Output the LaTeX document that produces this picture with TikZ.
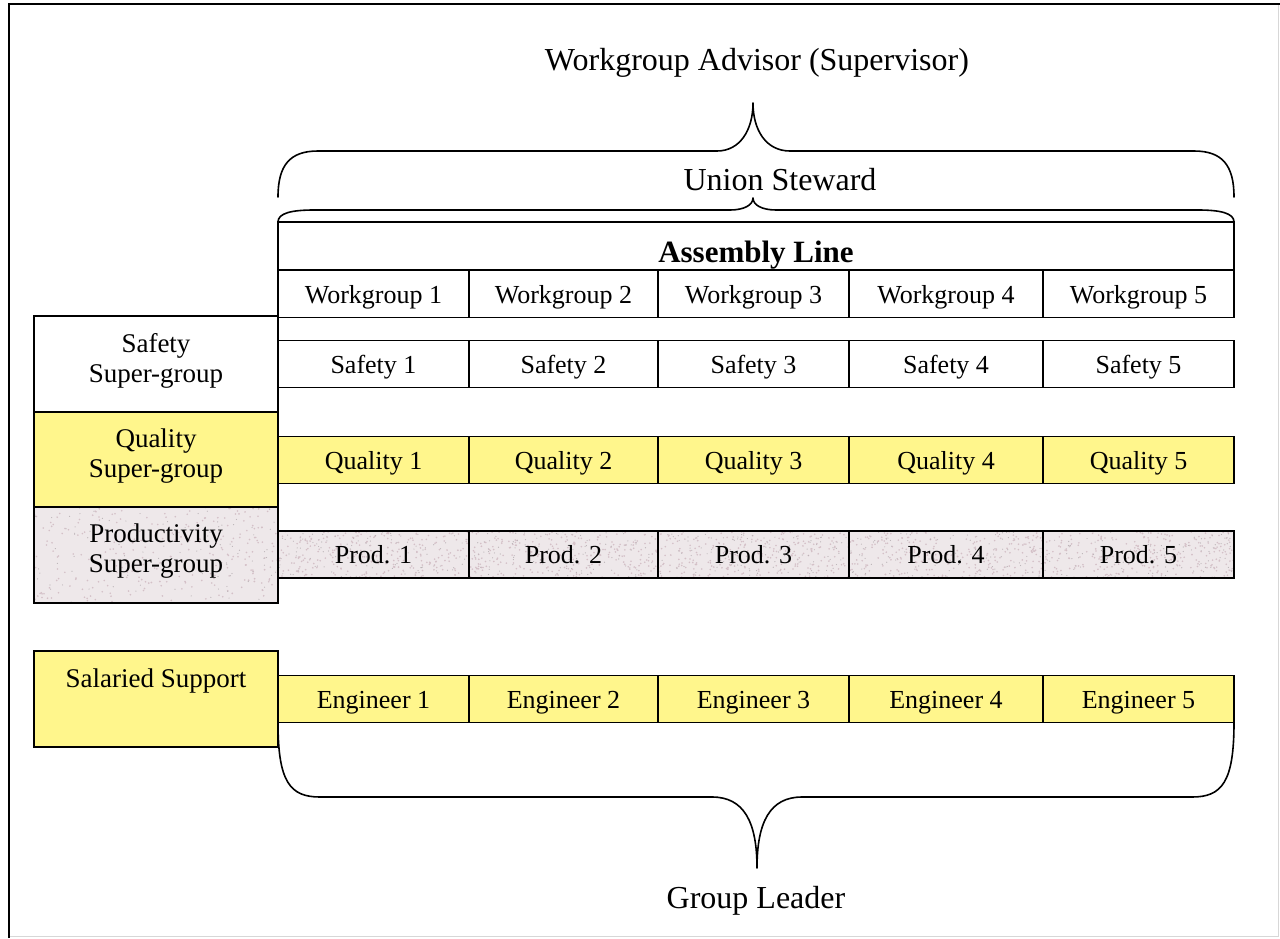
\documentclass[tikz,border=0pt]{standalone}
\usepackage{fontspec}
\setmainfont{Liberation Serif}
\usetikzlibrary{calc}

\definecolor{hiyellow}{RGB}{255,246,140}
\definecolor{prodbase}{RGB}{238,232,234}
\definecolor{speckA}{RGB}{212,192,199}
\definecolor{speckB}{RGB}{186,178,182}
\definecolor{framegray}{RGB}{215,215,215}

\tikzset{
  box/.style={draw, line width=1.4pt, inner sep=0pt, outer sep=0pt},
  cell/.style={box, minimum height=47, text height=18pt, text depth=0pt,
               font=\fontsize{26}{30}\selectfont},
  yel/.style={fill=hiyellow},
  speckled/.style={fill=prodbase, path picture={
      \path (path picture bounding box.south west) coordinate (spSW)
            (path picture bounding box.north east) coordinate (spNE);
      \foreach \k in {1,...,260}{
        \path ($(spSW)!{rnd}!(spSW-|spNE)$) coordinate (spX)
              ($(spSW)!{rnd}!(spSW|-spNE)$) coordinate (spY);
        \fill[speckA] (spX|-spY) circle (0.9pt);
      }
      \foreach \k in {1,...,110}{
        \path ($(spSW)!{rnd}!(spSW-|spNE)$) coordinate (spX)
              ($(spSW)!{rnd}!(spSW|-spNE)$) coordinate (spY);
        \fill[speckB] (spX|-spY) circle (0.6pt);
      }
  }},
  sidelabel/.style={anchor=base, inner sep=0pt, font=\fontsize{27}{31}\selectfont},
  biglabel/.style={anchor=base, inner sep=0pt, font=\fontsize{32}{37}\selectfont},
  brace/.style={line width=1.6pt, line cap=round, line join=round},
}

\begin{document}
\begin{tikzpicture}[x=1pt, y=-1pt]
\pgfmathsetseed{4711}
\useasboundingbox (0,0) rectangle (1280,938);
\fill[white] (0,0) rectangle (1280,938);

% page frame
\draw[framegray, line width=1pt] (9,936.5) -- (1278.5,936.5) -- (1278.5,4);
\draw[line width=2.6pt] (9,938) -- (9,4) -- (1280,4);

% headline and braces
\node[biglabel] (advisor) at (757,70) {Workgroup Advisor (Supervisor)};
\node[biglabel] (steward) at (780,190) {Union Steward};

\coordinate (topL) at (278,197);
\coordinate (topR) at (1234,197);
\coordinate (topTip) at (753,103);
\draw[brace] (topL) .. controls (278,165) and (290,151) .. (318,151)
  -- (717,151) .. controls (740,151) and (753,130) .. (topTip)
  .. controls (753,130) and (766,151) .. (790,151)
  -- (1194,151) .. controls (1222,151) and (1234,165) .. (topR);

% assembly line header
\node[box, anchor=north west, minimum width=956, minimum height=48] (asm) at (278,222) {};
\node[anchor=base, inner sep=0pt, font=\fontsize{31}{36}\selectfont\bfseries] (asmlabel) at (756,262) {Assembly Line};

\coordinate (inL) at (asm.north west);
\coordinate (inR) at (asm.north east);
\coordinate (inTip) at (753,198);
\draw[brace] (inL) .. controls (278,213) and (292,210) .. (314,210)
  -- (730,210) .. controls (744,210) and (753,205) .. (inTip)
  .. controls (753,205) and (762,210) .. (776,210)
  -- (1198,210) .. controls (1220,210) and (1234,213) .. (inR);

% super-group boxes on the left
\node[box, anchor=north west, minimum width=244, minimum height=96] (ssg) at (34,316) {};
\node[box, yel, anchor=north west, minimum width=244, minimum height=95] (qsg) at (34,412) {};
\node[box, speckled, anchor=north west, minimum width=244, minimum height=96] (psg) at (34,507) {};
\node[box, yel, anchor=north west, minimum width=244, minimum height=96] (sal) at (34,651) {};

\node[sidelabel] (ssgA) at (156,352) {Safety};
\node[sidelabel] (ssgB) at (156,382) {Super-group};
\node[sidelabel] (qsgA) at (156,447) {Quality};
\node[sidelabel] (qsgB) at (156,477) {Super-group};
\node[sidelabel] (psgA) at (156,542) {Productivity};
\node[sidelabel] (psgB) at (156,572) {Super-group};
\node[sidelabel] (salA) at (156,687) {Salaried Support};

% the five workgroup columns
\foreach \i/\xl/\xr in {1/278/469, 2/469/658, 3/658/849, 4/849/1043, 5/1043/1234}{
  \node[cell, minimum width=\xr-\xl] (wg\i) at ({(\xl+\xr)/2},294) {Workgroup \i};
  \node[cell, minimum width=\xr-\xl] (sf\i) at ({(\xl+\xr)/2},364) {Safety \i};
  \node[cell, yel, minimum width=\xr-\xl] (ql\i) at ({(\xl+\xr)/2},460) {Quality \i};
  \node[cell, speckled, minimum width=\xr-\xl] (pr\i) at ({(\xl+\xr)/2},554.5) {Prod. \i};
  \node[cell, yel, minimum width=\xr-\xl] (en\i) at ({(\xl+\xr)/2},699) {Engineer \i};
}

% group leader brace
\coordinate (botL) at (en1.south west);
\coordinate (botR) at (en5.south east);
\coordinate (botTip) at (757,868);
\draw[brace] (botL) .. controls (278,782) and (290,797) .. (320,797)
  -- (712,797) .. controls (744,797) and (757,822) .. (botTip)
  .. controls (757,822) and (770,797) .. (802,797)
  -- (1192,797) .. controls (1222,797) and (1234,782) .. (botR);

\node[biglabel] (leader) at (756,908) {Group Leader};
\end{tikzpicture}
\end{document}
